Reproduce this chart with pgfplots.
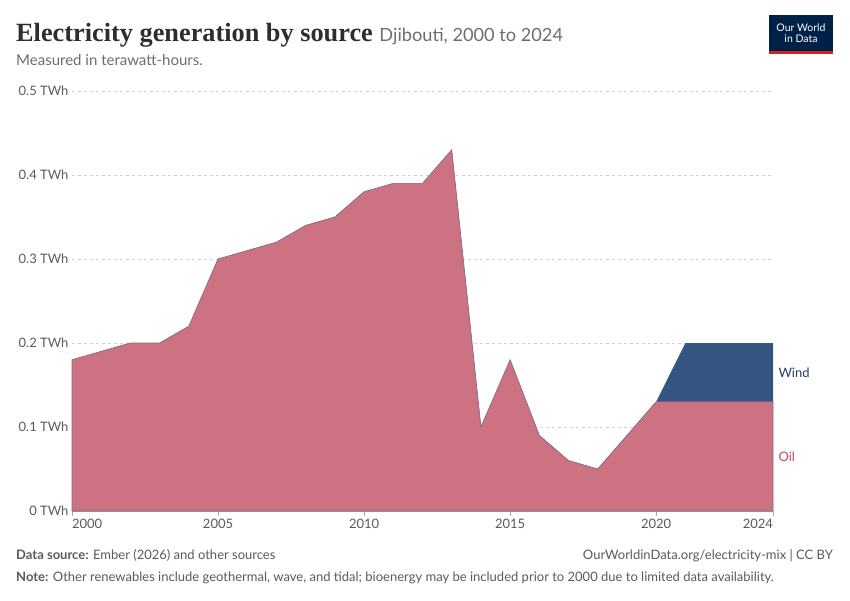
\documentclass[border=0pt]{standalone}
\usepackage{fontspec}
\setmainfont{Lato}
\newfontfamily\titlefont{Liberation Serif}
\usepackage{pgfplots}
\pgfplotsset{compat=1.18}
\definecolor{oil}{HTML}{CC7283}
\definecolor{oiledge}{HTML}{8A6A7E}
\definecolor{wind}{HTML}{34557F}
\definecolor{windtxt}{HTML}{1B3C6B}
\definecolor{oiltxt}{HTML}{C34A5E}
\definecolor{owidblue}{HTML}{002147}
\definecolor{owidred}{HTML}{CE261E}
\definecolor{txtgray}{HTML}{5B5B5B}
\definecolor{subgray}{HTML}{6E6E6E}
\definecolor{darktxt}{HTML}{2D2D2D}

\pgfplotstableread{
year oil wind
2000 0.18 0
2001 0.19 0
2002 0.20 0
2003 0.20 0
2004 0.22 0
2005 0.30 0
2006 0.31 0
2007 0.32 0
2008 0.34 0
2009 0.35 0
2010 0.38 0
2011 0.39 0
2012 0.39 0
2013 0.43 0
2014 0.10 0
2015 0.18 0
2016 0.09 0
2017 0.06 0
2018 0.05 0
2019 0.09 0
2020 0.13 0
2021 0.13 0.07
2022 0.13 0.07
2023 0.13 0.07
2024 0.13 0.07
}\data

\begin{document}
\begin{tikzpicture}[x=1pt,y=1pt]
\useasboundingbox[fill=white] (0,0) rectangle (850,600);
% title
\node[anchor=base west, inner sep=0] at (16,558) {\titlefont\bfseries\fontsize{26.3}{30}\selectfont\color{darktxt}Electricity generation by source\ {\normalfont\rmfamily\fontsize{18.2}{21}\selectfont\color{subgray}Djibouti, 2000 to 2024}};
\node[anchor=base west, inner sep=0] at (16,534) {\fontsize{15}{17}\selectfont\color{subgray}Measured in terawatt-hours.};
% logo
\fill[owidblue] (769,549) rectangle (833,585);
\fill[owidred] (769,546) rectangle (833,549);
\node[align=center, text=white, inner sep=0, font=\fontsize{10.5}{11.5}\selectfont] at (801,567) {Our World\\in Data};

\begin{axis}[
  at={(72pt,89pt)}, anchor=south west,
  scale only axis, width=701pt, height=420pt,
  xmin=2000, xmax=2024, ymin=0, ymax=0.5,
  stack plots=y,
  axis x line*=bottom, axis y line*=left,
  x axis line style={draw=gray!70, line width=0.8pt},
  y axis line style={draw=none},
  ytick={0,0.1,0.2,0.3,0.4,0.5},
  yticklabels={0 TWh,0.1 TWh,0.2 TWh,0.3 TWh,0.4 TWh,0.5 TWh},
  xtick={2000,2005,2010,2015,2020,2024},
  xticklabels={\rlap{2000},2005,2010,2015,2020,\llap{2024}},
  ytick style={draw=none},
  xtick style={draw=gray!70, line width=0.8pt},
  xtick align=outside, major tick length=5pt,
  ymajorgrids, grid style={dashed, gray!35, line width=0.8pt},
  tick label style={font=\fontsize{13}{15}\selectfont, text=txtgray},
  /pgf/number format/assume math mode=true,
  clip=false,
  axis on top=false,
]
\addplot[fill=oil, draw=oiledge, line width=0.7pt] table[x=year,y=oil] {\data} \closedcycle;
\addplot[fill=wind, draw=none] table[x=year,y=wind] {\data} \closedcycle;
\node[anchor=west, text=windtxt, font=\fontsize{13}{15}\selectfont] at (axis cs:2024,0.164) {\hspace{2pt}Wind};
\node[anchor=west, text=oiltxt, font=\fontsize{13}{15}\selectfont] at (axis cs:2024,0.064) {\hspace{2pt}Oil};
\end{axis}

% footer
\node[anchor=base west, inner sep=0] at (16,41) {\fontsize{13}{15}\selectfont\color{txtgray}\textbf{Data source:} Ember (2026) and other sources};
\node[anchor=base east, inner sep=0] at (833,41) {\fontsize{13}{15}\selectfont\color{txtgray}OurWorldinData.org/electricity-mix | CC BY};
\node[anchor=base west, inner sep=0] at (16,19) {\fontsize{13}{15}\selectfont\color{txtgray}\textbf{Note:} Other renewables include geothermal, wave, and tidal; bioenergy may be included prior to 2000 due to limited data availability.};
\end{tikzpicture}
\end{document}
